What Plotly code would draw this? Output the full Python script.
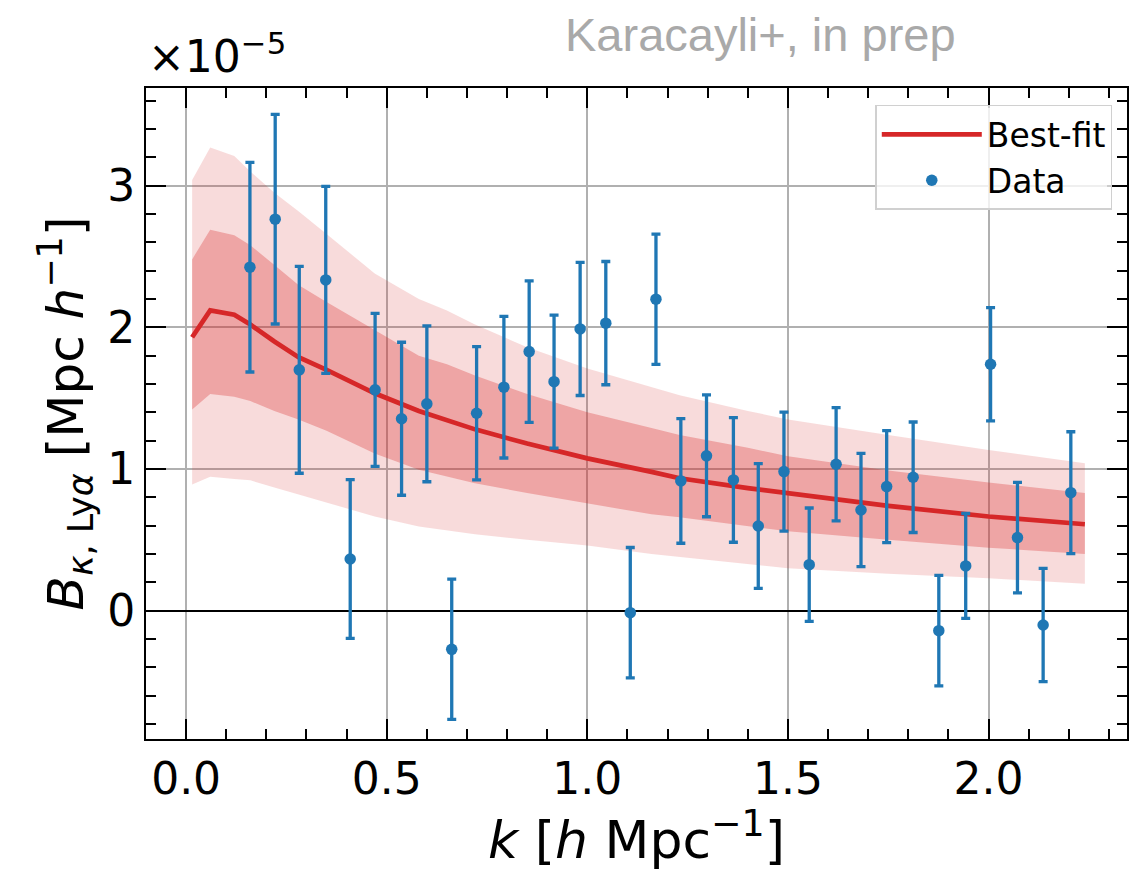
import plotly.graph_objects as go

# ---- data (B values in units of 1e-5 Mpc/h) ----
SCALE_LABEL = "×10<sup>−5</sup>"

k_data = [0.159, 0.222, 0.282, 0.348, 0.409, 0.471, 0.537, 0.600, 0.662, 0.724,
          0.792, 0.855, 0.917, 0.982, 1.046, 1.107, 1.171, 1.233, 1.297, 1.364,
          1.426, 1.490, 1.553, 1.620, 1.682, 1.746, 1.812, 1.876, 1.943, 2.005,
          2.072, 2.136, 2.205]
B_data = [2.425, 2.764, 1.700, 2.335, 0.365, 1.559, 1.355, 1.460, -0.273, 1.394,
          1.578, 1.829, 1.617, 1.989, 2.030, -0.014, 2.199, 0.916, 1.093, 0.923,
          0.598, 0.982, 0.325, 1.034, 0.711, 0.876, 0.942, -0.141, 0.316, 1.740,
          0.516, -0.101, 0.833]
B_err = [0.74, 0.74, 0.73, 0.66, 0.56, 0.54, 0.54, 0.55, 0.495, 0.47,
         0.50, 0.50, 0.47, 0.47, 0.435, 0.46, 0.46, 0.44, 0.43, 0.44,
         0.44, 0.42, 0.40, 0.40, 0.40, 0.395, 0.39, 0.39, 0.37, 0.40,
         0.39, 0.40, 0.43]

k_fit = [0.015, 0.06, 0.12, 0.16, 0.22, 0.28, 0.35, 0.47, 0.58, 0.65,
         0.72, 0.85, 1.00, 1.16, 1.23, 1.40, 1.50, 1.75, 2.00, 2.24]
B_fit = [1.93, 2.12, 2.09, 2.02, 1.90, 1.79, 1.70, 1.535, 1.41, 1.345,
         1.28, 1.18, 1.075, 0.98, 0.935, 0.865, 0.83, 0.74, 0.665, 0.61]
fit_1s_hi = [2.48, 2.69, 2.65, 2.58, 2.44, 2.30, 2.18, 1.98, 1.80, 1.74,
             1.66, 1.53, 1.40, 1.29, 1.24, 1.15, 1.09, 0.99, 0.905, 0.83]
fit_1s_lo = [1.42, 1.53, 1.51, 1.48, 1.41, 1.35, 1.27, 1.11, 0.995, 0.945,
             0.90, 0.83, 0.76, 0.68, 0.66, 0.60, 0.56, 0.50, 0.445, 0.40]
fit_2s_hi = [3.04, 3.27, 3.21, 3.10, 2.95, 2.82, 2.66, 2.38, 2.20, 2.12,
             2.02, 1.86, 1.71, 1.58, 1.52, 1.41, 1.35, 1.24, 1.135, 1.04]
fit_2s_lo = [0.89, 0.945, 0.93, 0.92, 0.87, 0.82, 0.76, 0.665, 0.595, 0.57,
             0.54, 0.50, 0.46, 0.40, 0.38, 0.33, 0.30, 0.26, 0.229, 0.19]

x_ticks = [0.0, 0.5, 1.0, 1.5, 2.0]
y_ticks = [0, 1, 2, 3]

RED = "#d62728"
BLUE = "#1f77b4"
FONT = "DejaVu Sans"

fig = go.Figure()

# 2-sigma band
fig.add_trace(go.Scatter(x=k_fit, y=fit_2s_lo, mode="lines", line=dict(width=0),
                         showlegend=False, hoverinfo="skip"))
fig.add_trace(go.Scatter(x=k_fit, y=fit_2s_hi, mode="lines", line=dict(width=0),
                         fill="tonexty", fillcolor="rgba(214,39,40,0.17)",
                         showlegend=False, hoverinfo="skip"))
# 1-sigma band
fig.add_trace(go.Scatter(x=k_fit, y=fit_1s_lo, mode="lines", line=dict(width=0),
                         showlegend=False, hoverinfo="skip"))
fig.add_trace(go.Scatter(x=k_fit, y=fit_1s_hi, mode="lines", line=dict(width=0),
                         fill="tonexty", fillcolor="rgba(214,39,40,0.30)",
                         showlegend=False, hoverinfo="skip"))
# best fit
fig.add_trace(go.Scatter(x=k_fit, y=B_fit, mode="lines", name="Best-fit",
                         legendgroup="fit",
                         line=dict(color=RED, width=4.7)))
# data
fig.add_trace(go.Scatter(x=k_data, y=B_data, mode="markers", name="Data",
                         legendgroup="data",
                         marker=dict(color=BLUE, size=11.5),
                         error_y=dict(type="data", array=B_err, visible=True,
                                      color=BLUE, thickness=3.3, width=4.5)))

axis_common = dict(
    showline=True, linecolor="black", linewidth=2, mirror="ticks",
    ticks="inside", ticklen=20, tickwidth=2, tickcolor="black",
    showgrid=True, gridcolor="#b0b0b0", gridwidth=1.5,
    tickfont=dict(family=FONT, size=44, color="black"),
)

fig.update_xaxes(
    range=[-0.1, 2.345], tickvals=x_ticks, ticktext=[f"{v:.1f}" for v in x_ticks],
    zeroline=False,
    minor=dict(ticks="inside", ticklen=10, tickwidth=1.6, tickcolor="black", dtick=0.1,
               tick0=0, showgrid=False),
    title=dict(text="<i>k</i> [<i>h</i> Mpc<sup>−1</sup>]",
               font=dict(family=FONT, size=52, color="black"), standoff=9),
    **axis_common,
)
fig.update_yaxes(
    range=[-0.906, 3.69], tickvals=y_ticks, ticktext=[str(v) for v in y_ticks],
    zeroline=True, zerolinecolor="black", zerolinewidth=1.6,
    minor=dict(ticks="inside", ticklen=10, tickwidth=1.6, tickcolor="black", dtick=0.2,
               tick0=0, showgrid=False),
    title=dict(text="<i>B</i><sub><i>κ</i>, Ly<i>α</i></sub> [Mpc <i>h</i><sup>−1</sup>]",
               font=dict(family=FONT, size=50, color="black"), standoff=8),
    **axis_common,
)

fig.add_annotation(text=SCALE_LABEL, xref="paper", yref="paper", x=0.0, y=1.0,
                   xanchor="left", yanchor="bottom", showarrow=False, xshift=0, yshift=4,
                   font=dict(family=FONT, size=44, color="black"))
fig.add_annotation(text="Karacayli+, in prep", xref="paper", yref="paper",
                   x=0.626, y=1.0, xanchor="center", yanchor="bottom", yshift=25,
                   showarrow=False,
                   font=dict(family="Liberation Sans", size=47, color="#a9a9a9"))

# page body has an 8px margin, so the figure is 8px smaller and offsets reduced
fig.update_layout(
    width=1133, height=862,
    margin=dict(l=138, r=14, t=80, b=131),
    paper_bgcolor="white", plot_bgcolor="white",
    font=dict(family=FONT, color="black"),
    legend=dict(x=0.985, y=0.974, xanchor="right", yanchor="top",
                traceorder="normal",
                bgcolor="rgba(255,255,255,0.8)", bordercolor="#d0d0d0", borderwidth=1.5,
                font=dict(family=FONT, size=33, color="black"),
                itemwidth=100, tracegroupgap=6),
)

fig.write_html("out.html")
